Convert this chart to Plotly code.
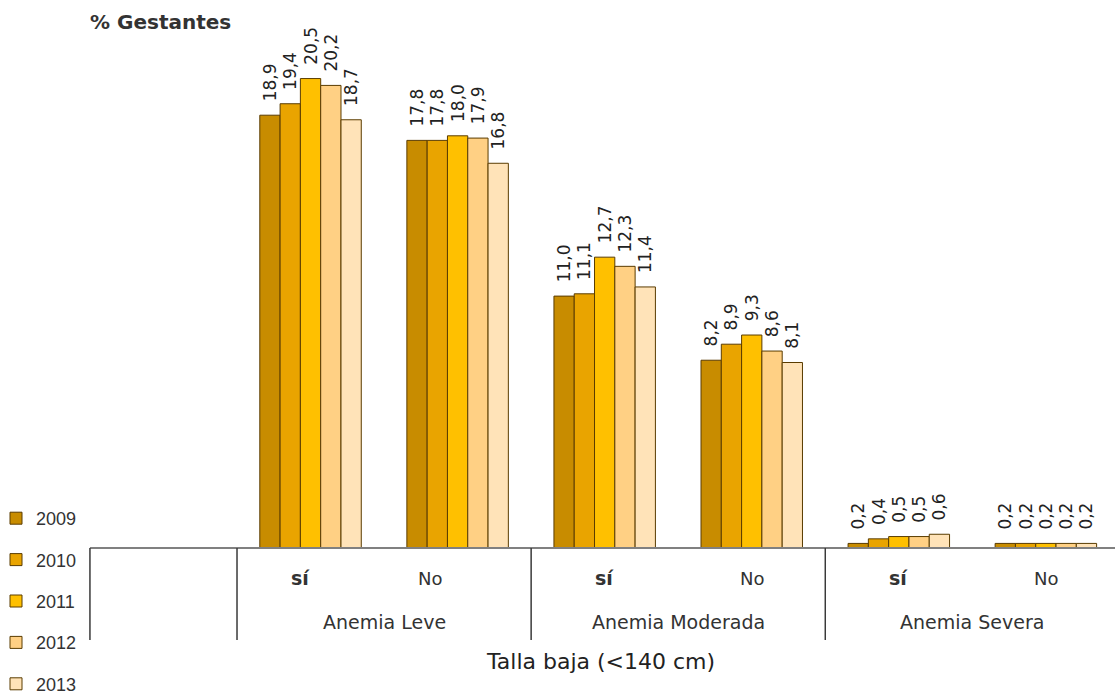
import plotly.graph_objects as go

# Pregnant women (%) by anaemia level and short stature (<140 cm), 2009-2013
years = ["2009", "2010", "2011", "2012", "2013"]
anemia = ["Anemia Leve", "Anemia Moderada", "Anemia Severa"]
talla = ["sí", "No"]

v2009 = [18.9, 17.8, 11.0, 8.2, 0.2, 0.2]
v2010 = [19.4, 17.8, 11.1, 8.9, 0.4, 0.2]
v2011 = [20.5, 18.0, 12.7, 9.3, 0.5, 0.2]
v2012 = [20.2, 17.9, 12.3, 8.6, 0.5, 0.2]
v2013 = [18.7, 16.8, 11.4, 8.1, 0.6, 0.2]
series = [v2009, v2010, v2011, v2012, v2013]

colors = ["#C88C00", "#E9A400", "#FFC000", "#FFD084", "#FFE3B8"]
edge = "#5A3C00"

# category keys: one blank slot on the left, then anaemia x stature
cats = [f"{a} | {t}" for a in anemia for t in talla]
cat_order = [" "] + cats

fig = go.Figure()
for yr, vals, col in zip(years, series, colors):
    fig.add_trace(go.Bar(
        x=cats, y=vals, name=yr, legendgroup=yr,
        marker=dict(color=col, line=dict(color=edge, width=1)),
        texttemplate="\u00a0\u00a0%{y:.1f}", textposition="outside",
        textangle=-90, constraintext="none", cliponaxis=False,
        textfont=dict(family="DejaVu Sans", size=17, color="#222222"),
        hoverinfo="skip",
    ))

ML, MR, MT, MB = 87, 0, 30, 50
W, H = 1115, 695
plot_h = H - MT - MB


def py(pixel_y):
    """paper y for a page pixel row"""
    return (H - MB - pixel_y) / plot_h


shapes = []
# baseline / axis line
shapes.append(dict(type="line", xref="x", yref="y", x0=-0.5, x1=6.6, y0=0, y1=0,
                   line=dict(color="#808080", width=2)))
# group dividers hanging below the axis
for xb in [-0.5, 0.5, 2.5, 4.5]:
    shapes.append(dict(type="line", xref="x", yref="paper", x0=xb, x1=xb,
                       y0=py(548), y1=py(640), line=dict(color="#3A3A3A", width=1.5)))

# horizontal nudges of the stature labels (first group sits left of centre)
label_shift = [-10, -28, 0, 0, 0, 0]

annotations = []
for i, c in enumerate(cats):
    t = c.split(" | ")[1]
    if t == "sí":
        txt, fnt = "<b>sí</b>", dict(family="DejaVu Sans", size=19, color="#333333")
    else:
        txt, fnt = "No", dict(family="DejaVu Sans", size=18, color="#333333")
    annotations.append(dict(x=c, y=py(578), xref="x", yref="paper", text=txt,
                            yanchor="middle", showarrow=False, font=fnt,
                            xshift=label_shift[i]))
for j, a in enumerate(anemia):
    annotations.append(dict(x=1.5 + 2 * j, y=py(622), xref="x", yref="paper", text=a,
                            yanchor="middle", showarrow=False,
                            font=dict(family="DejaVu Sans", size=19, color="#333333")))
annotations.append(dict(x=2.97, y=py(661), xref="x", yref="paper",
                        text="Talla baja (<140 cm)", yanchor="middle", showarrow=False,
                        font=dict(family="DejaVu Sans", size=22, color="#222222")))
annotations.append(dict(x=-0.02, y=py(22), xref="x", yref="paper",
                        text="<b>% Gestantes</b>", yanchor="middle", showarrow=False,
                        font=dict(family="DejaVu Sans", size=20, color="#333333")))

fig.update_layout(
    width=W, height=H,
    margin=dict(l=ML, r=MR, t=MT, b=MB, autoexpand=False),
    paper_bgcolor="white", plot_bgcolor="white",
    barmode="group", bargap=0.31, bargroupgap=0,
    separators=",.",
    xaxis=dict(type="category", categoryorder="array", categoryarray=cat_order,
               range=[-0.52, 6.47], showticklabels=False, showgrid=False,
               zeroline=False, showline=False, ticks=""),
    yaxis=dict(range=[-4.236, 22.62], showticklabels=False, showgrid=False,
               zeroline=False, showline=False, ticks=""),
    shapes=shapes, annotations=annotations,
    showlegend=True,
    legend=dict(x=(-4 - ML) / (W - ML - MR), y=py(500), xanchor="left", yanchor="top",
                traceorder="grouped", tracegroupgap=15,
                font=dict(family="Liberation Sans", size=18, color="#333333"),
                bgcolor="rgba(0,0,0,0)"),
)

fig.write_html("out.html")
